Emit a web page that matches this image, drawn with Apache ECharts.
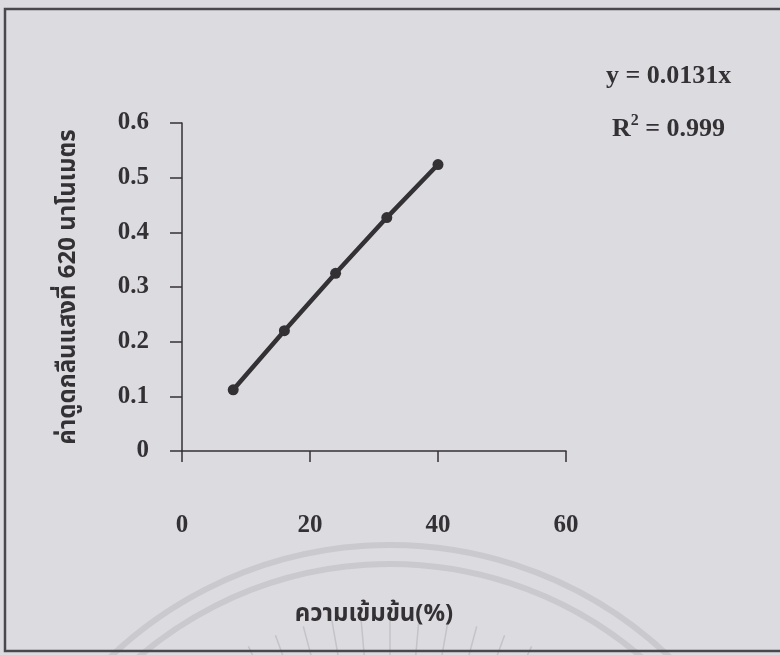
<!DOCTYPE html>
<html>
<head>
<meta charset="utf-8">
<style>
  html, body { margin: 0; padding: 0; background: #dcdbe0; }
  #chart { width: 780px; height: 655px; }
</style>
<script src="https://cdn.jsdelivr.net/npm/echarts@6/dist/echarts.min.js"></script>
</head>
<body>
<div id="chart"></div>
<script>
// Calibration data: concentration (%) vs absorbance at 620 nm
const concentration = [8, 16, 24, 32, 40];
const absorbance = [0.112, 0.220, 0.325, 0.427, 0.524];
const xTicks = [0, 20, 40, 60];
const yTicks = [0, 0.1, 0.2, 0.3, 0.4, 0.5, 0.6];
const equationText = 'y = 0.0131x';
const r2Value = '0.999';
const xTitle = 'ความเข้มข้น(%)';
const yTitle = 'ค่าดูดกลืนแสงที่ 620 นาโนเมตร';

const ink = '#343134';
const serif = '"Liberation Serif", "Times New Roman", serif';
const thai = '"Noto Sans Thai", "Noto Serif Thai", "Loma", "Garuda", "Norasi", "DejaVu Sans", sans-serif';

const chart = echarts.init(document.getElementById('chart'), null, { renderer: 'canvas' });

// faint seal in the lower part of the page: two arcs and a fan of rays
const cx = 390, cy = 950;
const seal = [];
[405, 386].forEach(r => {
  seal.push({
    type: 'arc', silent: true, z: -10,
    shape: { cx: cx, cy: cy, r: r, startAngle: Math.PI * 1.1, endAngle: Math.PI * 1.9 },
    style: { stroke: '#cac9ce', lineWidth: 6, fill: null }
  });
});
for (let a = -40; a <= 40; a += 5) {
  const t = (a - 90) * Math.PI / 180;
  seal.push({
    type: 'line', silent: true, z: -10,
    shape: {
      x1: cx + Math.cos(t) * 335, y1: cy + Math.sin(t) * 335,
      x2: cx + Math.cos(t) * 240, y2: cy + Math.sin(t) * 240
    },
    style: { stroke: '#c4c3c8', lineWidth: 1.5 }
  });
}

chart.setOption({
  backgroundColor: '#dcdbe0',
  animation: false,
  grid: { left: 182, right: 214, top: 123, bottom: 204 },
  xAxis: {
    type: 'value',
    min: xTicks[0], max: xTicks[xTicks.length - 1], interval: xTicks[1] - xTicks[0],
    name: xTitle,
    nameLocation: 'middle',
    nameGap: 153,
    nameTextStyle: { fontFamily: thai, fontSize: 24, color: ink, fontWeight: 'bold' },
    axisLine: { show: true, onZero: false, lineStyle: { color: ink, width: 1.5 } },
    axisTick: { show: true, inside: false, length: 11, lineStyle: { color: ink, width: 1.5 } },
    axisLabel: { margin: 62, fontFamily: serif, fontSize: 25, fontWeight: 'bold', color: ink },
    splitLine: { show: false }
  },
  yAxis: {
    type: 'value',
    min: yTicks[0], max: yTicks[yTicks.length - 1], interval: 0.1,
    name: yTitle,
    nameLocation: 'middle',
    nameGap: 100,
    nameRotate: 90,
    nameTextStyle: { fontFamily: thai, fontSize: 24, color: ink, fontWeight: 'bold' },
    axisLine: { show: true, lineStyle: { color: ink, width: 1.5 } },
    axisTick: { show: true, inside: false, length: 12, lineStyle: { color: ink, width: 1.5 } },
    axisLabel: {
      margin: 33, fontFamily: serif, fontSize: 25, fontWeight: 'bold', color: ink,
      formatter: v => (v === 0 ? '0' : v.toFixed(1))
    },
    splitLine: { show: false }
  },
  series: [{
    type: 'line',
    data: concentration.map((x, i) => [x, absorbance[i]]),
    symbol: 'circle',
    symbolSize: 11,
    lineStyle: { color: ink, width: 4.5 },
    itemStyle: { color: ink }
  }],
  graphic: seal.concat([
    {
      type: 'rect', silent: true, z: 5,
      shape: { x: 5, y: 9, width: 800, height: 642 },
      style: { fill: null, stroke: '#4a484c', lineWidth: 2.5 }
    },
    {
      type: 'text', left: 606, top: 63, z: 5,
      style: { text: equationText, font: 'bold 26px ' + serif, fill: ink }
    },
    {
      type: 'text', left: 612, top: 113, z: 5,
      style: {
        text: '{b|R}{s|2}{b| = ' + r2Value + '}',
        rich: {
          b: { font: 'bold 26px ' + serif, fill: ink, verticalAlign: 'bottom' },
          s: { font: 'bold 16px ' + serif, fill: ink, verticalAlign: 'top', padding: [0, 0, 13, 0] }
        }
      }
    }
  ])
});
</script>
</body>
</html>
